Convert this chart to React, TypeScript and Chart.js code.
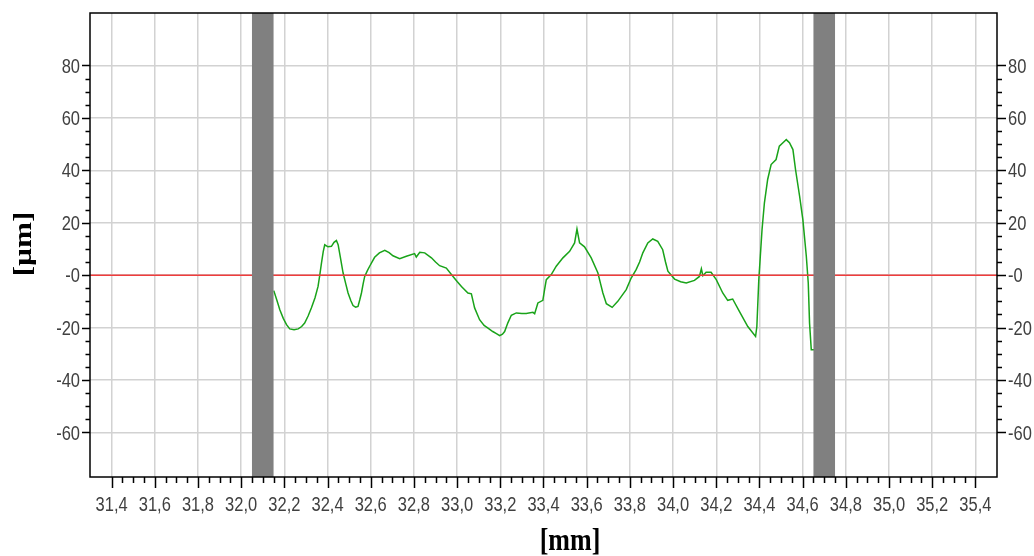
import React, { useEffect, useRef } from 'react';
import { Chart, registerables } from 'chart.js';

Chart.register(...registerables);

// ---- Data ----
const xMin = 31.3;
const xMax = 35.5;
const yMin = -77;
const yMax = 100;

const xTickValues = [31.4, 31.6, 31.8, 32.0, 32.2, 32.4, 32.6, 32.8, 33.0, 33.2, 33.4, 33.6, 33.8, 34.0, 34.2, 34.4, 34.6, 34.8, 35.0, 35.2, 35.4];
const xTickLabels = ['31,4', '31,6', '31,8', '32,0', '32,2', '32,4', '32,6', '32,8', '33,0', '33,2', '33,4', '33,6', '33,8', '34,0', '34,2', '34,4', '34,6', '34,8', '35,0', '35,2', '35,4'];
const yTickValues = [-60, -40, -20, 0, 20, 40, 60, 80];
const yTickLabels = ['-60', '-40', '-20', '-0', '20', '40', '60', '80'];

const bandStarts = [32.05, 34.65];
const bandEnds = [32.15, 34.75];

const zeroLineX = [31.3, 35.5];
const zeroLineY = [0, 0];

const profileX = [
  32.151, 32.165, 32.179, 32.195, 32.21, 32.225, 32.245, 32.264, 32.28, 32.294,
  32.31, 32.325, 32.342, 32.356, 32.364, 32.372, 32.38, 32.387, 32.395, 32.402,
  32.418, 32.43, 32.441, 32.449, 32.46, 32.472, 32.485, 32.495, 32.508, 32.518,
  32.53, 32.541, 32.549, 32.557, 32.565, 32.572, 32.585, 32.595, 32.618, 32.64,
  32.665, 32.685, 32.703, 32.734, 32.765, 32.803, 32.811, 32.827, 32.85, 32.881,
  32.9, 32.919, 32.95, 32.981, 33.0, 33.02, 33.05, 33.066, 33.074, 33.081,
  33.104, 33.125, 33.143, 33.165, 33.182, 33.197, 33.21, 33.22, 33.235, 33.251,
  33.274, 33.3, 33.32, 33.351, 33.359, 33.374, 33.397, 33.405, 33.413, 33.436,
  33.459, 33.49, 33.521, 33.544, 33.555, 33.567, 33.59, 33.621, 33.652, 33.665,
  33.675, 33.691, 33.718, 33.744, 33.783, 33.806, 33.829, 33.845, 33.86, 33.883,
  33.906, 33.929, 33.952, 33.965, 33.976, 34.007, 34.035, 34.061, 34.099, 34.122,
  34.131, 34.138, 34.153, 34.176, 34.2, 34.23, 34.253, 34.276, 34.307, 34.346,
  34.382, 34.388, 34.397, 34.403, 34.412, 34.423, 34.438, 34.454, 34.477, 34.492,
  34.516, 34.524, 34.539, 34.555, 34.567, 34.586, 34.601, 34.617, 34.626, 34.632,
  34.64, 34.655,
];
const profileY = [
  -5.9, -9.5, -13.2, -16.5, -18.9, -20.5, -20.8, -20.5, -19.6, -18.3,
  -15.6, -12.5, -8.6, -4.3, 0, 4.7, 9.0, 11.6, 11.2, 10.8,
  11.0, 12.5, 13.2, 11.6, 6.5, 0.8, -3.5, -6.8, -9.8, -11.6,
  -12.2, -11.9, -9.5, -6.8, -3.2, -0.5, 1.8, 3.4, 6.8, 8.5,
  9.5, 8.6, 7.4, 6.3, 7.2, 8.2, 6.9, 8.7, 8.5, 6.6,
  5.0, 3.6, 2.7, -0.5, -2.4, -4.3, -6.8, -7.1, -10.0, -12.5,
  -17, -19.2, -20.2, -21.5, -22.3, -23.1, -22.5, -21.5, -18.2, -15.3,
  -14.4, -14.6, -14.6, -14.2, -14.7, -10.6, -9.6, -5.5, -1.7, 0.2,
  3.4, 6.6, 9.1, 12.3, 17.6, 12.3, 10.8, 6.6, 0.8, -3.5,
  -6.8, -10.9, -12.3, -10, -5.5, -1.1, 2.1, 5.0, 8.5, 12.3,
  13.8, 12.9, 9.7, 5.0, 1.5, -1.5, -2.5, -3.0, -2.0, -0.5,
  2.4, -0.2, 1.1, 1.1, -1.7, -6.8, -9.6, -9.1, -13.8, -19.6,
  -23.4, -19.6, -1.7, 5.9, 17.4, 27.6, 36.5, 42.2, 44.1, 49.2,
  51.1, 51.7, 50.5, 47.9, 40.3, 30.1, 21.2, 7.2, -3.0, -18.3,
  -28.5, -28.5,
];

const xLabel = '[mm]';
const yLabel = '[µm]';

const tickFont = "'Liberation Sans', Arial, sans-serif";
const titleFont = "'Liberation Serif', 'Times New Roman', serif";

const overlayPlugin = {
  id: 'overlay',
  afterDatasetsDraw(chart: any) {
    const { ctx, chartArea } = chart;
    const xs = chart.scales.x;
    ctx.save();
    ctx.fillStyle = '#808080';
    for (let i = 0; i < bandStarts.length; i++) {
      const a = xs.getPixelForValue(bandStarts[i]);
      const b = xs.getPixelForValue(bandEnds[i]);
      ctx.fillRect(a, chartArea.top, b - a, chartArea.bottom - chartArea.top);
    }
    ctx.restore();
  },
  afterDraw(chart: any) {
    const { ctx, chartArea } = chart;
    const xs = chart.scales.x;
    const ys = chart.scales.y;
    const { left, right, top, bottom } = chartArea;
    ctx.save();
    ctx.strokeStyle = '#000';
    ctx.lineWidth = 1.5;
    ctx.strokeRect(left, top, right - left, bottom - top);

    ctx.lineWidth = 1.5;
    ctx.beginPath();
    for (let i = 0; i < xTickValues.length; i++) {
      const px = Math.round(xs.getPixelForValue(xTickValues[i])) + 0.5;
      ctx.moveTo(px, bottom);
      ctx.lineTo(px, bottom + 11);
      if (i < xTickValues.length - 1) {
        const step = (xTickValues[i + 1] - xTickValues[i]) / 4;
        for (let k = 1; k < 4; k++) {
          const mx = Math.round(xs.getPixelForValue(xTickValues[i] + step * k)) + 0.5;
          ctx.moveTo(mx, bottom);
          ctx.lineTo(mx, bottom + 6);
        }
      }
    }
    for (let i = 0; i < yTickValues.length; i++) {
      const py = Math.round(ys.getPixelForValue(yTickValues[i])) + 0.5;
      ctx.moveTo(left, py);
      ctx.lineTo(left - 8, py);
      ctx.moveTo(right, py);
      ctx.lineTo(right + 9, py);
      if (i < yTickValues.length - 1) {
        const step = (yTickValues[i + 1] - yTickValues[i]) / 4;
        for (let k = 1; k < 4; k++) {
          const my = Math.round(ys.getPixelForValue(yTickValues[i] + step * k)) + 0.5;
          ctx.moveTo(left, my);
          ctx.lineTo(left - 4.5, my);
          ctx.moveTo(right, my);
          ctx.lineTo(right + 5, my);
        }
      }
    }
    ctx.stroke();

    // tick labels (vertically stretched like the reference)
    const fs = 16.5;
    const stretch = 1.2;
    const baseOff = 0.358 * fs * stretch;
    ctx.fillStyle = '#404040';
    ctx.font = `${fs}px ${tickFont}`;
    ctx.textBaseline = 'alphabetic';
    ctx.textAlign = 'center';
    for (let i = 0; i < xTickValues.length; i++) {
      const px = xs.getPixelForValue(xTickValues[i]);
      ctx.save();
      ctx.translate(px, bottom + 26.7 + baseOff);
      ctx.scale(1, stretch);
      ctx.fillText(xTickLabels[i], 0, 0);
      ctx.restore();
    }
    for (let i = 0; i < yTickValues.length; i++) {
      const py = ys.getPixelForValue(yTickValues[i]);
      ctx.save();
      ctx.textAlign = 'right';
      ctx.translate(left - 10, py + baseOff);
      ctx.scale(1, stretch);
      ctx.fillText(yTickLabels[i], 0, 0);
      ctx.restore();
      ctx.save();
      ctx.textAlign = 'left';
      ctx.translate(right + 11, py + baseOff);
      ctx.scale(1, stretch);
      ctx.fillText(yTickLabels[i], 0, 0);
      ctx.restore();
    }

    // axis titles
    ctx.fillStyle = '#000';
    ctx.font = `bold 26px ${titleFont}`;
    ctx.textAlign = 'center';
    ctx.textBaseline = 'middle';
    ctx.save();
    ctx.translate(570, 542);
    ctx.scale(1, 1.2);
    ctx.fillText(xLabel, 0, 0);
    ctx.restore();
    ctx.save();
    ctx.translate(24, 244);
    ctx.rotate(-Math.PI / 2);
    ctx.scale(1.2, 1);
    ctx.fillText(yLabel, 0, 0);
    ctx.restore();
    ctx.restore();
  },
};

export default function App() {
  const ref = useRef<HTMLCanvasElement>(null);
  useEffect(() => {
    const canvas = ref.current!;
    const chart = new Chart(canvas, {
      type: 'line',
      data: {
        datasets: [
          {
            data: zeroLineX.map((x, i) => ({ x, y: zeroLineY[i] })),
            borderColor: '#f03c3c',
            borderWidth: 1.5,
            pointRadius: 0,
            tension: 0,
          },
          {
            data: profileX.map((x, i) => ({ x, y: profileY[i] })),
            borderColor: '#19a319',
            borderWidth: 1.5,
            pointRadius: 0,
            tension: 0,
          },
        ],
      },
      options: {
        animation: false,
        responsive: false,
        devicePixelRatio: 1,
        layout: { padding: { top: 13, left: 0, right: 0, bottom: 0 } },
        plugins: {
          legend: { display: false },
          tooltip: { enabled: false },
          title: { display: false },
        },
        scales: {
          x: {
            type: 'linear',
            position: 'bottom',
            min: xMin,
            max: xMax,
            afterBuildTicks: (s: any) => {
              s.ticks = xTickValues.map((v) => ({ value: v }));
            },
            afterFit: (s: any) => {
              s.height = 79;
            },
            grid: { color: '#d2d2d2', lineWidth: 1.5, drawTicks: false },
            border: { display: false },
            ticks: { display: false },
          },
          y: {
            type: 'linear',
            position: 'left',
            min: yMin,
            max: yMax,
            afterBuildTicks: (s: any) => {
              s.ticks = yTickValues.map((v) => ({ value: v }));
            },
            afterFit: (s: any) => {
              s.width = 90;
            },
            grid: { color: '#d2d2d2', lineWidth: 1.5, drawTicks: false },
            border: { display: false },
            ticks: { display: false },
          },
          y2: {
            type: 'linear',
            position: 'right',
            min: yMin,
            max: yMax,
            afterBuildTicks: (s: any) => {
              s.ticks = yTickValues.map((v) => ({ value: v }));
            },
            afterFit: (s: any) => {
              s.width = 37;
            },
            grid: { display: false, drawTicks: false },
            border: { display: false },
            ticks: { display: false },
          },
        },
      },
      plugins: [overlayPlugin],
    });
    return () => chart.destroy();
  }, []);
  return (
    <div style={{ position: 'fixed', left: 0, top: 0, width: 1034, height: 556, background: '#fff' }}>
      <canvas ref={ref} width={1034} height={556} style={{ width: 1034, height: 556, display: 'block' }} />
    </div>
  );
}
